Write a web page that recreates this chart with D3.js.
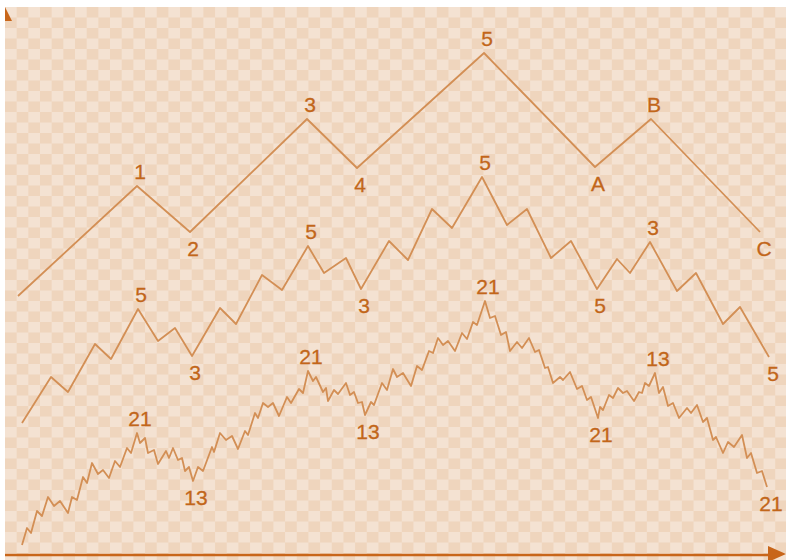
<!DOCTYPE html>
<html><head><meta charset="utf-8">
<script src="https://cdn.jsdelivr.net/npm/d3@7/dist/d3.min.js"></script>
<style>html,body{margin:0;padding:0;background:#fff;}svg{display:block;}</style>
</head><body>
<svg id="chart" width="786" height="560"></svg>
<script>
// ---- data (time, price) ----
const degreeTime = [18,137,190,307,357,484,595,651,760];
const degreePrice = [264,374,328,441,392,507,393,441,328];
const degreeLabelIdx = [1,2,3,4,5,6,7,8];
const degreeLabels = ["1","2","3","4","5","A","B","C"];

const midTime = [22,51,68,95,111,138,158,175,192,220,236,262,282,308,324,346,361,389,408,432,452,482,507,527,551,571,597,617,630,650,677,696,723,740,769];
const midPrice = [137,183,168,216,201,251,219,232,204,252,236,285,270,314,287,302,271,319,300,351,332,383,335,351,302,319,271,301,287,318,269,287,236,253,203];
const midLabelIdx = [5,8,13,16,21,26,29,34];
const midLabels = ["5","3","5","3","5","5","3","5"];

const lowTime = [
  22,27,31,37,42,48,54,60,68,72,77,83,87,92,98,103,109,115,120,127,131,137,
  140,145,148,154,158,166,169,173,178,182,185,189,193,
  198,203,212,214,220,226,232,238,245,248,255,258,263,268,273,279,287,291,299,303,308,
  313,316,323,326,328,334,338,346,350,354,358,362,365,
  371,374,382,387,393,397,403,411,417,422,429,433,438,443,448,455,462,467,473,477,485,
  490,495,501,506,510,517,522,529,535,539,545,548,553,560,563,570,577,582,587,591,598,
  600,603,609,613,618,623,627,634,639,642,645,649,655,
  659,663,668,673,679,687,691,697,703,707,713,716,723,728,734,742,747,751,757,762,767];
const lowPrice = [
  15,32,27,49,44,63,54,59,47,63,60,83,77,97,86,90,82,99,93,112,107,127,
  117,122,107,110,96,109,102,112,100,102,89,93,79,
  93,89,113,108,127,120,124,111,129,125,147,142,157,153,157,144,163,157,171,167,189,
  179,183,168,172,159,170,166,177,165,168,157,158,145,
  158,155,177,170,191,183,187,174,194,190,209,207,222,215,219,209,227,221,238,235,259,
  242,244,225,228,209,218,212,222,208,210,192,193,177,183,180,188,171,174,160,163,142,
  153,150,165,162,172,167,169,159,168,167,177,174,187,
  167,173,154,157,142,152,147,155,138,142,120,123,107,118,113,125,102,107,87,89,73];
const lowLabelIdx = [21,34,55,68,89,110,123,144];
const lowLabels = ["21","13","21","13","21","21","13","21"];

// ---- drawing ----
const W = 786, H = 560;
const svg = d3.select("#chart");
const x = d3.scaleLinear().domain([0, 786]).range([0, W]);
const y = d3.scaleLinear().domain([0, 560]).range([H, 0]);

const defs = svg.append("defs");
const cw = 11.67, ch = 10.5;
const pat = defs.append("pattern").attr("id","chk").attr("patternUnits","userSpaceOnUse")
  .attr("x",5).attr("y",7).attr("width",cw*2).attr("height",ch*2);
pat.append("rect").attr("width",cw*2).attr("height",ch*2).attr("fill","#efd5bd");
pat.append("rect").attr("x",0).attr("y",0).attr("width",cw).attr("height",ch).attr("fill","#f4e2d2");
pat.append("rect").attr("x",cw).attr("y",ch).attr("width",cw).attr("height",ch).attr("fill","#f4e2d2");

svg.append("rect").attr("x",5).attr("y",7).attr("width",W-5).attr("height",H-7).attr("fill","url(#chk)");

const lineColor = "#d38f55", textColor = "#c2661a", axisColor = "#c8661a";

const line = d3.line().x(d => x(d[0])).y(d => y(d[1]));

function drawWave(times, prices, idx, labels) {
  const pts = times.map((t,i) => [t, prices[i]]);
  svg.append("path").datum(pts).attr("d", line)
    .attr("fill","none").attr("stroke",lineColor).attr("stroke-width",1.8)
    .attr("stroke-linejoin","round");
  idx.forEach((k,j) => {
    const p = pts[k];
    const prev = pts[k-1];
    const isPeak = p[1] > prev[1];
    const last = k === pts.length - 1;
    svg.append("text")
      .attr("x", x(p[0]) + (last ? 4 : 3))
      .attr("y", isPeak ? y(p[1]) - 7 : y(p[1]) + 24)
      .attr("text-anchor","middle")
      .attr("font-family","'Liberation Sans', Arial, sans-serif")
      .attr("font-size", 21)
      .attr("fill", textColor)
      .attr("stroke", textColor).attr("stroke-width", 0.3)
      .text(labels[j]);
  });
}
drawWave(degreeTime, degreePrice, degreeLabelIdx, degreeLabels);
drawWave(midTime, midPrice, midLabelIdx, midLabels);
drawWave(lowTime, lowPrice, lowLabelIdx, lowLabels);

// axes
svg.append("line").attr("x1",5).attr("x2",770).attr("y1",555).attr("y2",555)
  .attr("stroke",axisColor).attr("stroke-width",2.5);
svg.append("path").attr("d","M768,546 L786,554 L768,562 Z").attr("fill",axisColor);
svg.append("path").attr("d","M5,7 L12,21 L5,21 Z").attr("fill",axisColor);
</script>
</body></html>
